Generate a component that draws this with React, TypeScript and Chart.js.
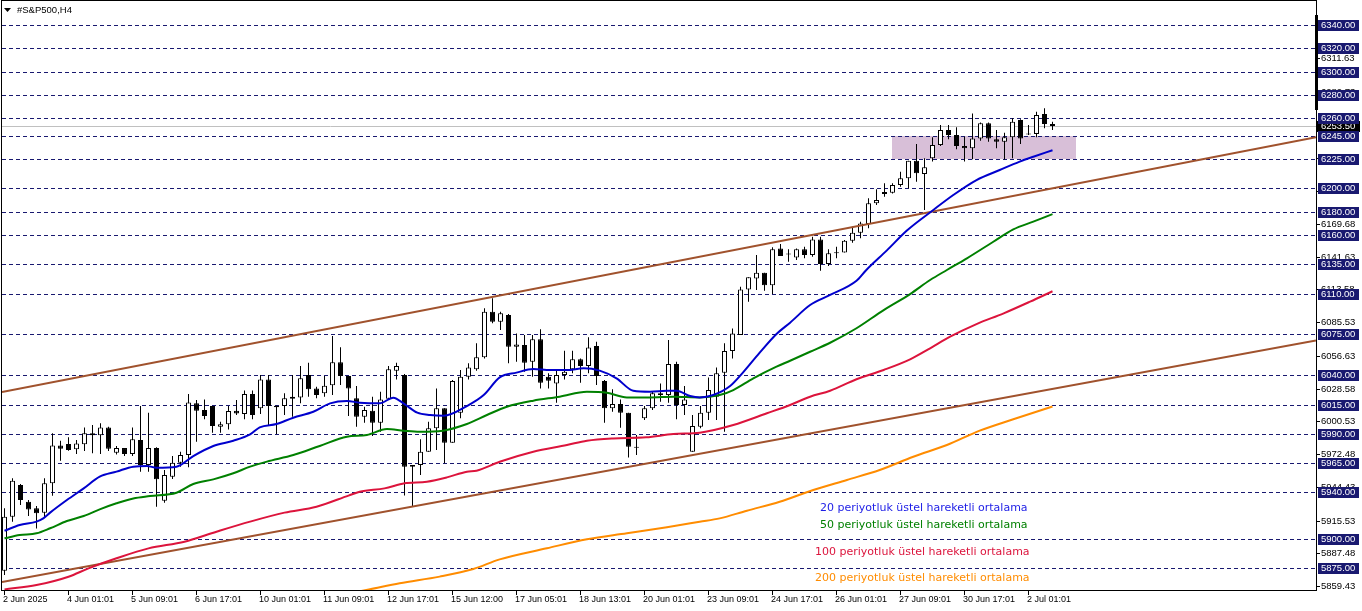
import React, { useEffect, useRef } from "react";
import { Chart, registerables } from "chart.js";

Chart.register(...registerables);

// ---------------- data ----------------
const chartTitle = "#S&P500,H4";

const barOpen = [
  5872.7, 5918.9, 5946.1, 5931.8, 5926.1, 5922.4, 5947.5, 5980.0, 5981.2, 5976.6,
  5980.9, 5990.3, 5988.6, 5995.4, 5973.7, 5977.7, 5972.6, 5984.6, 5963.2, 5977.7,
  5932.6, 5953.2, 5965.2, 5971.7, 6016.0, 6010.3, 6013.7, 5996.0, 5998.0, 6009.7,
  6006.9, 6024.0, 6011.7, 6036.5, 6014.0, 6013.7, 6020.0, 6021.1, 6040.3, 6028.8,
  6024.6, 6031.4, 6051.1, 6039.4, 6020.3, 6004.6, 6009.7, 5999.4, 6020.0, 6044.0,
  6040.3, 5963.2, 5963.2, 5974.6, 5994.6, 6011.7, 5982.3, 6008.0, 6038.8, 6045.1,
  6055.4, 6094.5, 6085.9, 6091.6, 6064.5, 6065.9, 6051.7, 6070.8, 6038.8, 6033.1,
  6040.3, 6045.1, 6053.7, 6048.0, 6065.1, 6035.1, 6011.7, 6015.4, 6008.0, 5978.0,
  6003.2, 6011.7, 6024.6, 6023.1, 6049.7, 6014.6, 5974.6, 5996.0, 6008.0, 6021.7,
  6042.2, 6060.8, 6074.5, 6113.6, 6123.0, 6127.9, 6117.1, 6148.7, 6143.9, 6141.0,
  6147.9, 6143.0, 6156.4, 6135.3, 6144.5, 6145.1, 6155.3, 6162.1, 6169.6, 6187.3,
  6196.9, 6196.4, 6203.0, 6208.7, 6223.8, 6212.4, 6225.8, 6237.2, 6250.1, 6245.8,
  6236.4, 6234.4, 6242.9, 6255.8, 6242.1, 6240.1, 6243.8, 6258.6, 6246.9, 6246.7,
  6263.8, 6255.2,
];
const barHigh = [
  5926.1, 5951.8, 5946.9, 5933.2, 5928.1, 5951.8, 5990.3, 5984.0, 5987.0, 5984.6,
  5995.4, 5997.4, 5998.9, 5996.0, 5979.5, 5977.7, 5995.4, 6013.7, 6008.0, 5978.5,
  5958.9, 5970.9, 5974.6, 6024.0, 6018.9, 6019.4, 6013.7, 6000.3, 6013.7, 6018.9,
  6026.9, 6026.9, 6040.3, 6040.3, 6014.0, 6024.6, 6040.3, 6048.0, 6050.8, 6030.3,
  6039.4, 6073.7, 6064.0, 6039.4, 6030.9, 6013.1, 6021.7, 6026.0, 6048.0, 6050.8,
  6041.1, 5963.2, 5985.2, 6000.3, 6028.8, 6011.7, 6036.0, 6044.6, 6050.3, 6067.4,
  6097.4, 6105.9, 6094.5, 6092.5, 6075.9, 6074.5, 6074.5, 6079.4, 6041.7, 6044.6,
  6061.1, 6061.1, 6054.5, 6072.5, 6068.8, 6036.0, 6028.0, 6019.4, 6008.0, 5988.9,
  6013.7, 6026.0, 6033.1, 6070.2, 6051.7, 6030.9, 6006.0, 6013.7, 6038.2, 6046.8,
  6067.4, 6080.2, 6115.9, 6123.9, 6143.0, 6127.9, 6149.6, 6152.4, 6147.9, 6148.7,
  6150.2, 6158.7, 6158.7, 6147.9, 6150.2, 6155.9, 6167.3, 6171.6, 6191.6, 6199.3,
  6204.4, 6204.4, 6214.4, 6223.8, 6238.1, 6225.8, 6243.8, 6254.4, 6254.4, 6252.4,
  6244.4, 6264.3, 6256.4, 6256.4, 6250.1, 6247.8, 6260.1, 6259.2, 6254.4, 6265.8,
  6268.6, 6257.2,
];
const barLow = [
  5869.0, 5914.7, 5928.9, 5919.5, 5908.9, 5918.4, 5936.9, 5966.9, 5975.5, 5972.6,
  5975.2, 5973.2, 5972.6, 5975.2, 5972.3, 5970.9, 5970.9, 5957.5, 5957.5, 5927.5,
  5930.9, 5951.2, 5961.8, 5961.2, 5983.2, 6002.3, 5990.9, 5990.9, 5993.7, 6006.0,
  6002.3, 6002.3, 6006.9, 5996.6, 5989.7, 6006.0, 6004.6, 6016.0, 6021.7, 6020.3,
  6021.7, 6023.1, 6031.7, 6005.1, 5996.0, 5999.4, 5988.0, 5991.7, 6019.7, 6036.5,
  5937.0, 5927.5, 5954.6, 5974.6, 5976.0, 5964.6, 5982.3, 6003.2, 6036.5, 6044.0,
  6054.5, 6084.5, 6078.8, 6050.3, 6051.7, 6043.1, 6038.8, 6028.8, 6028.8, 6016.6,
  6036.5, 6041.7, 6033.7, 6041.7, 6031.7, 5999.4, 6008.9, 5995.2, 5969.7, 5971.7,
  6001.7, 6010.3, 6017.4, 6016.6, 6002.3, 6006.0, 5974.6, 5994.6, 6001.7, 6001.7,
  5991.7, 6054.5, 6074.5, 6103.1, 6113.0, 6112.5, 6109.6, 6142.2, 6137.3, 6138.7,
  6140.2, 6141.6, 6129.6, 6133.6, 6140.2, 6145.1, 6153.6, 6157.3, 6165.9, 6185.8,
  6193.0, 6195.8, 6201.5, 6200.1, 6205.8, 6181.6, 6223.0, 6236.4, 6242.1, 6233.5,
  6223.0, 6225.0, 6240.9, 6240.1, 6234.4, 6224.9, 6225.8, 6238.1, 6245.8, 6243.8,
  6251.5, 6250.1,
];
const barClose = [
  5918.9, 5949.8, 5933.2, 5925.2, 5921.8, 5947.5, 5980.0, 5977.2, 5976.0, 5981.7,
  5990.3, 5988.6, 5995.4, 5977.2, 5977.7, 5972.6, 5985.2, 5963.2, 5977.7, 5950.9,
  5954.6, 5965.2, 5971.7, 6016.8, 6009.7, 6005.1, 5996.6, 5998.0, 6009.4, 6007.4,
  6024.0, 6006.0, 6036.5, 6013.7, 6012.6, 6020.3, 6021.7, 6037.4, 6028.0, 6023.1,
  6031.1, 6051.1, 6039.4, 6028.8, 6004.6, 6010.3, 5999.4, 6019.4, 6045.1, 6048.0,
  5961.8, 5961.8, 5974.6, 5994.6, 6011.7, 5982.3, 6035.1, 6038.8, 6046.8, 6055.4,
  6094.5, 6085.9, 6093.1, 6064.5, 6066.5, 6050.8, 6070.8, 6033.7, 6035.4, 6040.3,
  6043.1, 6053.7, 6048.0, 6063.9, 6039.4, 6011.7, 6015.4, 6008.0, 5978.9, 5978.0,
  6011.7, 6024.6, 6023.1, 6049.7, 6014.6, 6019.4, 5996.6, 6008.0, 6027.4, 6041.7,
  6060.8, 6075.9, 6113.6, 6123.9, 6127.9, 6117.1, 6147.9, 6142.2, 6143.5, 6147.9,
  6143.0, 6156.4, 6135.3, 6144.5, 6145.1, 6155.3, 6162.1, 6170.1, 6187.3, 6190.1,
  6195.3, 6203.0, 6208.7, 6223.8, 6213.0, 6218.1, 6237.2, 6250.1, 6245.8, 6236.4,
  6234.4, 6242.9, 6255.8, 6242.9, 6240.1, 6243.8, 6257.2, 6242.9, 6246.3, 6262.9,
  6255.2, 6253.5,
];

// 20-period EMA (blue)
const ema20Bars = [0, 1.9, 4, 4.85, 5.7, 7.8, 9.9, 11.9, 14, 16.1, 17.8, 19, 21.5, 23.6, 26.1, 28.6, 30.7, 31.9, 34, 36.1, 38.6, 40.7, 42.8, 44.4, 46.9, 48.6, 50, 51.6, 53.2, 54.9, 57.8, 59.9, 61.9, 64, 66.1, 68.2, 70.3, 72.4, 74.4, 76.5, 78.6, 80.7, 82.8, 84, 85.7, 86.9, 88.6, 90.7, 92.3, 94.4, 96.5, 98.2, 100.7, 103.2, 106.5, 107.7, 110.3, 112.8, 116.1, 118.6, 121.5, 124.4, 126.9, 128.6, 131];
const ema20Vals = [5906.9, 5911.8, 5914.7, 5917.5, 5922.4, 5933.2, 5943.2, 5953.2, 5957.5, 5961.8, 5962.3, 5960.9, 5961.8, 5970.9, 5979.5, 5984.0, 5989.4, 5995.4, 5998.3, 6003.7, 6008.8, 6016.0, 6018.0, 6016.6, 6016.0, 6020.9, 6015.3, 6008.0, 6006.0, 6005.4, 6013.7, 6023.1, 6038.3, 6042.3, 6045.4, 6044.5, 6044.5, 6046.0, 6044.0, 6037.4, 6026.8, 6026.0, 6026.8, 6026.8, 6022.3, 6021.1, 6023.1, 6030.8, 6042.3, 6059.4, 6075.4, 6085.1, 6100.2, 6108.8, 6121.0, 6130.0, 6147.0, 6164.0, 6181.6, 6194.4, 6207.2, 6215.8, 6223.0, 6227.2, 6232.8];

// 50-period EMA (green)
const ema50Bars = [0, 1.9, 4, 5.7, 7.8, 9.9, 11.9, 14, 16.1, 18.2, 21.5, 23.6, 26.1, 28.6, 30.7, 32.8, 36.1, 39.4, 42.8, 45.3, 47.8, 49.9, 51.9, 54.8, 57.8, 60.3, 62.8, 66.1, 69.4, 72.8, 75.3, 77.8, 80.7, 83.6, 86.9, 89.4, 91.1, 93.6, 96.5, 98.2, 100.7, 103.2, 106.5, 109.9, 113.2, 115.7, 117.8, 120.3, 123.6, 126.1, 128.6, 131];
const ema50Vals = [5900.4, 5903.2, 5904.7, 5909.0, 5915.2, 5919.5, 5925.2, 5930.4, 5934.6, 5936.6, 5939.5, 5946.9, 5950.9, 5956.1, 5961.8, 5966.1, 5971.7, 5979.5, 5987.4, 5988.9, 5994.0, 5992.6, 5991.7, 5992.6, 5998.3, 6006.0, 6013.1, 6018.3, 6021.7, 6026.0, 6025.1, 6021.1, 6021.1, 6021.7, 6021.1, 6023.1, 6027.4, 6037.4, 6047.4, 6052.5, 6060.2, 6067.9, 6080.3, 6095.9, 6109.6, 6121.6, 6130.2, 6140.2, 6154.4, 6165.0, 6171.6, 6178.0];

// 100-period EMA (crimson)
const ema100Bars = [0, 4, 8, 10.5, 14, 18, 22.5, 26.5, 30.7, 35, 39, 43, 44.4, 47.5, 50, 52.8, 55.3, 57.8, 59, 61.9, 66.1, 70.3, 72.8, 76.1, 80.2, 83.6, 86.9, 91.1, 95.3, 98.2, 100.7, 103.2, 106.5, 109.9, 113.2, 115.7, 118.2, 121.5, 124.9, 128.2, 131];
const ema100Vals = [5856.7, 5860.4, 5867.5, 5874.7, 5883.3, 5891.8, 5897.5, 5906.1, 5914.7, 5922.4, 5927.5, 5937.0, 5940.3, 5943.2, 5947.5, 5948.9, 5952.6, 5957.5, 5958.3, 5966.0, 5974.6, 5980.3, 5984.0, 5986.0, 5986.9, 5989.7, 5990.9, 5997.5, 6007.5, 6014.6, 6021.7, 6026.8, 6036.6, 6044.6, 6053.7, 6063.1, 6073.1, 6083.9, 6093.1, 6103.1, 6112.0];

// 200-period EMA (orange)
const ema200Bars = [44, 45.7, 49.4, 54.4, 58.6, 61.9, 67.8, 72.8, 77.8, 82.8, 86.9, 89.4, 92.8, 96.9, 101.1, 105.3, 109.4, 113.6, 117.8, 121.9, 126.1, 131];
const ema200Vals = [5854.5, 5856.8, 5861.9, 5867.6, 5874.1, 5882.4, 5891.9, 5899.6, 5904.7, 5909.9, 5914.6, 5917.5, 5924.1, 5931.7, 5941.8, 5950.4, 5958.9, 5970.3, 5980.3, 5992.6, 6002.4, 6013.3];

// channel trend lines (bar index, price)
const trendUpperBars = [-0.3125, 163.9375];
const trendUpperPrices = [6025.6, 6243.8];
const trendLowerBars = [-0.3125, 163.9375];
const trendLowerPrices = [5862.9, 6069.8];

// purple zone
const zoneBars = [110.9, 133.9];
const zonePrices = [6225, 6245];

// horizontal levels (navy labels)
const levelPrices = [6340, 6320, 6300, 6280, 6260, 6245, 6225, 6200, 6180, 6160, 6135, 6110, 6075, 6040, 6015, 5990, 5965, 5940, 5900, 5875];
// ordinary price-scale ticks
const scaleTickPrices = [6339.68, 6311.63, 6282.73, 6225.78, 6197.73, 6169.68, 6141.63, 6113.58, 6085.53, 6056.63, 6028.58, 6000.53, 5972.48, 5944.43, 5915.53, 5887.48, 5859.43];
const lastPrice = 6253.5;

// time axis
const xTickBars = [0, 8, 16, 24, 32, 40, 48, 56, 64, 72, 80, 88, 96, 104, 112, 120, 128];
const xTickLabels = ["2 Jun 2025", "4 Jun 01:01", "5 Jun 09:01", "6 Jun 17:01", "10 Jun 01:01", "11 Jun 09:01", "12 Jun 17:01", "15 Jun 12:00", "17 Jun 05:01", "18 Jun 13:01", "20 Jun 01:01", "23 Jun 09:01", "24 Jun 17:01", "26 Jun 01:01", "27 Jun 09:01", "30 Jun 17:01", "2 Jul 01:01"];

// text notes on the chart
const noteTexts = [
  "20 periyotluk üstel hareketli ortalama",
  "50 periyotluk üstel hareketli ortalama",
  "100 periyotluk üstel hareketli ortalama",
  "200 periyotluk üstel hareketli ortalama",
];
const noteBars = [101.875, 101.875, 101.3, 101.3];
const notePrices = [5926.1, 5911.8, 5889.1, 5866.4];
const noteColors = ["rgb(28,28,230)", "rgb(0,128,0)", "rgb(220,20,60)", "rgb(255,140,0)"];

// ---------------- styling ----------------
const NAVY = "rgb(25,25,112)";
const AXIS_FONT = '9.5px "Liberation Sans", Arial, sans-serif';
const X_FONT = '9px "Liberation Sans", Arial, sans-serif';
const NOTE_FONT = '11px "DejaVu Sans", sans-serif';

const idx = barOpen.map((_, i) => i);
const wickData = idx.map((i) => ({ x: i, y: [barLow[i], barHigh[i]] }));
const bodyData = idx.map((i) => ({ x: i, y: [barOpen[i], barClose[i]] }));
const bodyColors = idx.map((i) => (barClose[i] >= barOpen[i] ? "#ffffff" : "#000000"));

const toPoints = (bars: number[], vals: number[]) => bars.map((b, k) => ({ x: b, y: vals[k] }));

const lineDs = (label: string, bars: number[], vals: number[], color: string, order: number, smooth: boolean) => ({
  type: "line" as const,
  label,
  data: toPoints(bars, vals),
  borderColor: color,
  borderWidth: 2,
  pointRadius: 0,
  tension: smooth ? 0.4 : 0,
  cubicInterpolationMode: smooth ? ("monotone" as const) : ("default" as const),
  fill: false,
  clip: 0,
  order,
  borderJoinStyle: "round" as const,
});

const backgroundPlugin = {
  id: "mtBackground",
  beforeDatasetsDraw(chart: any) {
    const { ctx, chartArea: a, scales } = chart;
    const x = scales.x;
    const y = scales.y;
    ctx.save();
    ctx.beginPath();
    ctx.rect(a.left, a.top, a.right - a.left, a.bottom - a.top);
    ctx.clip();
    // zone rectangle
    const zx1 = Math.round(x.getPixelForValue(zoneBars[0]));
    const zx2 = Math.round(x.getPixelForValue(zoneBars[1]));
    const zy1 = Math.round(y.getPixelForValue(zonePrices[1]));
    const zy2 = Math.round(y.getPixelForValue(zonePrices[0]));
    ctx.fillStyle = "rgb(216,191,216)";
    ctx.fillRect(zx1, zy1, zx2 - zx1, zy2 - zy1);
    // dashed horizontal levels
    ctx.strokeStyle = NAVY;
    ctx.lineWidth = 1;
    ctx.setLineDash([4, 3]);
    for (const p of levelPrices) {
      const py = Math.round(y.getPixelForValue(p)) + 0.5;
      ctx.beginPath();
      ctx.moveTo(a.left, py);
      ctx.lineTo(a.right, py);
      ctx.stroke();
    }
    // last price line
    ctx.setLineDash([]);
    ctx.strokeStyle = "rgb(192,192,192)";
    const ly = Math.round(y.getPixelForValue(lastPrice)) + 0.5;
    ctx.beginPath();
    ctx.moveTo(a.left, ly);
    ctx.lineTo(a.right, ly);
    ctx.stroke();
    ctx.restore();
  },
};

const overlayPlugin = {
  id: "mtOverlay",
  afterDraw(chart: any) {
    const { ctx, chartArea: a, scales } = chart;
    const x = scales.x;
    const y = scales.y;
    ctx.save();
    // notes
    ctx.font = NOTE_FONT;
    ctx.textAlign = "left";
    ctx.textBaseline = "middle";
    noteTexts.forEach((t, k) => {
      ctx.fillStyle = noteColors[k];
      ctx.fillText(t, Math.round(x.getPixelForValue(noteBars[k])), Math.round(y.getPixelForValue(notePrices[k])));
    });
    // frame
    ctx.strokeStyle = "#000";
    ctx.lineWidth = 1;
    ctx.strokeRect(a.left - 0.5, a.top - 0.5, a.right - a.left + 1, a.bottom - a.top + 1);
    // thick marker on price scale
    ctx.fillStyle = "#000";
    ctx.fillRect(a.right - 1, 15, 3, 95);
    // time axis
    ctx.font = X_FONT;
    ctx.fillStyle = "#000";
    xTickBars.forEach((b, k) => {
      const px = Math.floor(x.getPixelForValue(b)) + 0.5;
      ctx.beginPath();
      ctx.moveTo(px, a.bottom + 1);
      ctx.lineTo(px, a.bottom + 5);
      ctx.stroke();
      ctx.fillText(xTickLabels[k], px - 1.5, a.bottom + 10);
    });
    // price axis ordinary ticks
    ctx.font = AXIS_FONT;
    const lx = a.right + 5;
    for (const p of scaleTickPrices) {
      const py = Math.round(y.getPixelForValue(p)) + 0.5;
      ctx.beginPath();
      ctx.moveTo(a.right + 1, py);
      ctx.lineTo(a.right + 4, py);
      ctx.stroke();
      ctx.fillStyle = "#000";
      ctx.fillText(p.toFixed(2), lx, py);
    }
    // last price box
    {
      const py = Math.round(y.getPixelForValue(lastPrice));
      ctx.fillStyle = "#000";
      ctx.fillRect(a.right + 1, py - 5, 43, 11);
      ctx.fillStyle = "#fff";
      ctx.fillText(lastPrice.toFixed(2), lx, py + 0.5);
    }
    // level boxes
    for (const p of levelPrices) {
      const py = Math.round(y.getPixelForValue(p));
      ctx.fillStyle = NAVY;
      ctx.fillRect(a.right + 2, py - 5, 41, 11);
      ctx.fillStyle = "#fff";
      ctx.fillText(p.toFixed(2), lx, py + 0.5);
    }
    // title
    ctx.fillStyle = "#000";
    ctx.beginPath();
    ctx.moveTo(4, 8);
    ctx.lineTo(11, 8);
    ctx.lineTo(7.5, 12);
    ctx.closePath();
    ctx.fill();
    ctx.font = AXIS_FONT;
    ctx.fillText(chartTitle, 17, 10.5);
    ctx.restore();
  },
};

export default function App() {
  const ref = useRef<HTMLCanvasElement | null>(null);
  useEffect(() => {
    const canvas = ref.current;
    if (!canvas) return;
    const chart = new Chart(canvas, {
      type: "bar",
      data: {
        datasets: [
          {
            type: "bar",
            label: "wicks",
            data: wickData as any,
            backgroundColor: "#000000",
            borderWidth: 0,
            barThickness: 1,
            grouped: false,
            inflateAmount: 0,
            order: 30,
          } as any,
          {
            type: "bar",
            label: "bodies",
            data: bodyData as any,
            backgroundColor: bodyColors,
            borderColor: "#000000",
            borderWidth: 1,
            borderSkipped: false,
            barThickness: 5,
            grouped: false,
            inflateAmount: 0,
            minBarLength: 1,
            order: 29,
          } as any,
          lineDs("trendUpper", trendUpperBars, trendUpperPrices, "rgb(160,82,45)", 10, false) as any,
          lineDs("trendLower", trendLowerBars, trendLowerPrices, "rgb(160,82,45)", 10, false) as any,
          lineDs("EMA200", ema200Bars, ema200Vals, "rgb(255,140,0)", 5, true) as any,
          lineDs("EMA100", ema100Bars, ema100Vals, "rgb(220,20,60)", 4, true) as any,
          lineDs("EMA50", ema50Bars, ema50Vals, "rgb(0,128,0)", 3, true) as any,
          lineDs("EMA20", ema20Bars, ema20Vals, "rgb(0,0,205)", 2, true) as any,
        ],
      },
      options: {
        animation: false,
        responsive: false,
        devicePixelRatio: 1,
        events: [],
        layout: { padding: { left: 2, top: 1, right: 46, bottom: 21 } },
        plugins: { legend: { display: false }, tooltip: { enabled: false }, title: { display: false } },
        scales: {
          x: { type: "linear", display: false, min: -0.3125, max: 163.9375, offset: false, grid: { display: false } },
          y: { type: "linear", display: false, min: 5856.16, max: 6360.55, beginAtZero: false, grid: { display: false } },
        },
      },
      plugins: [backgroundPlugin, overlayPlugin],
    } as any);
    return () => chart.destroy();
  }, []);
  return (
    <div style={{ position: "fixed", left: 0, top: 0, width: 1362, height: 611, background: "#ffffff" }}>
      <canvas ref={ref} width={1362} height={611} style={{ display: "block", width: 1362, height: 611 }} />
    </div>
  );
}
